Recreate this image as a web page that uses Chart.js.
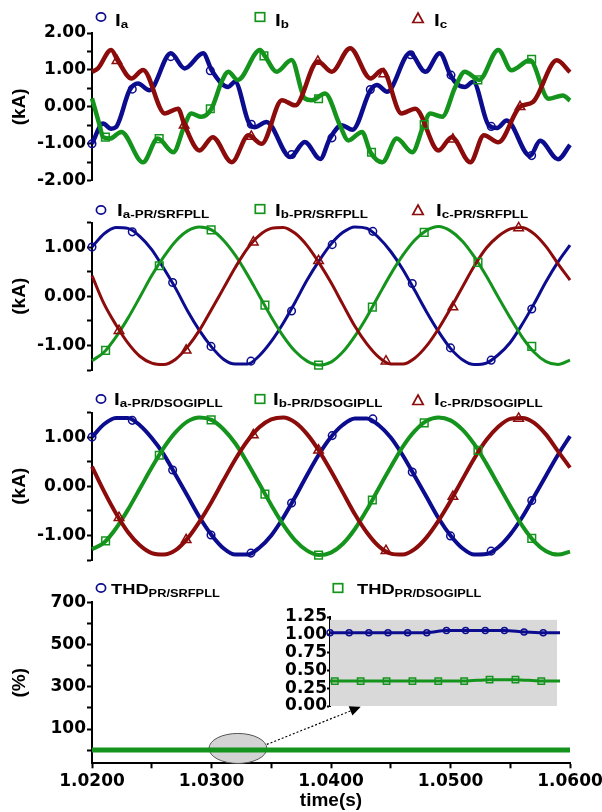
<!DOCTYPE html>
<html><head><meta charset="utf-8">
<script src="https://cdn.jsdelivr.net/npm/chart.js@4.4.1/dist/chart.umd.min.js"></script>
<style>
html,body{margin:0;padding:0;background:#fff;}
body{width:602px;height:812px;position:relative;overflow:hidden;}
canvas{position:absolute;}
.lg{position:absolute;font-family:'Liberation Sans',Arial,sans-serif;font-weight:bold;color:#000;white-space:nowrap;line-height:1;transform:scaleX(1.22);transform-origin:0 0;}
.lg .m{font-size:17px;}
.lg .s{font-size:11px;position:relative;top:2px;}
.lg .m2{font-size:15px;}
.lg .s2{font-size:10.5px;position:relative;top:3px;}
svg.mk{position:absolute;overflow:visible;}
</style></head><body>
<canvas id="c1" width="610" height="200" style="left:0;top:0"></canvas>
<canvas id="c2" width="610" height="190" style="left:0;top:200px"></canvas>
<canvas id="c3" width="610" height="185" style="left:0;top:390px"></canvas>
<canvas id="c4" width="610" height="232" style="left:0;top:580px"></canvas>
<canvas id="c5" width="340" height="120" style="left:230px;top:600px"></canvas>

<div class="lg" style="left:115px;top:11.8px"><span class="m">I</span><span class="s">a</span></div>
<div class="lg" style="left:274.5px;top:11.8px"><span class="m">I</span><span class="s">b</span></div>
<div class="lg" style="left:433.8px;top:11.8px"><span class="m">I</span><span class="s">c</span></div>
<div class="lg" style="left:117px;top:201.5px"><span class="m">I</span><span class="s">a-PR/SRFPLL</span></div>
<div class="lg" style="left:274.5px;top:201.5px"><span class="m">I</span><span class="s">b-PR/SRFPLL</span></div>
<div class="lg" style="left:435.7px;top:201.5px"><span class="m">I</span><span class="s">c-PR/SRFPLL</span></div>
<div class="lg" style="left:114px;top:391.3px"><span class="m">I</span><span class="s">a-PR/DSOGIPLL</span></div>
<div class="lg" style="left:273.3px;top:391.3px"><span class="m">I</span><span class="s">b-PR/DSOGIPLL</span></div>
<div class="lg" style="left:433.8px;top:391.3px"><span class="m">I</span><span class="s">c-PR/DSOGIPLL</span></div>
<div class="lg" style="left:111.3px;top:581.3px"><span class="m2">THD</span><span class="s2">PR/SRFPLL</span></div>
<div class="lg" style="left:357px;top:581.3px"><span class="m2">THD</span><span class="s2">PR/DSOGIPLL</span></div>
<div id="marks"></div>

<script>
// ---------------- DATA ----------------
// Panel 1 : raw currents (kA)
const p1IaT = [1.02000,1.02092,1.02160,1.02200,1.02315,1.02385,1.02480,1.02660,1.02775,1.02930,1.03000,1.03085,1.03140,1.03197,1.03310,1.03360,1.03460,1.03660,1.03780,1.03910,1.03990,1.04090,1.04180,1.04330,1.04385,1.04470,1.04660,1.04790,1.04910,1.05000,1.05050,1.05120,1.05190,1.05320,1.05390,1.05470,1.05665,1.05750,1.05900,1.06000];
const p1Ia  = [-1.00,-0.45,-0.59,-0.55,0.45,0.63,0.45,1.45,1.04,1.45,1.00,0.63,0.54,0.68,-0.41,-0.55,-0.41,-1.36,-0.95,-1.41,-0.86,-0.50,-0.62,0.45,0.59,0.41,1.45,0.95,1.45,0.86,0.63,0.54,0.68,-0.50,-0.57,-0.37,-1.33,-0.92,-1.42,-1.03];
const p1IbT = [1.02000,1.02064,1.02092,1.02150,1.02245,1.02427,1.02550,1.02680,1.02775,1.02830,1.02915,1.03000,1.03085,1.03140,1.03220,1.03406,1.03450,1.03545,1.03670,1.03780,1.03840,1.03950,1.04075,1.04145,1.04260,1.04330,1.04430,1.04550,1.04680,1.04775,1.04830,1.04930,1.05040,1.05120,1.05240,1.05400,1.05510,1.05665,1.05820,1.05940,1.06000];
const p1Ib  = [0.23,-0.50,-0.82,-0.86,-0.68,-1.50,-0.86,-1.23,-0.50,-0.18,-0.27,-0.05,0.68,0.95,0.73,1.54,1.36,0.95,1.27,0.23,0.18,0.36,-0.50,-0.91,-0.68,-1.23,-1.50,-0.86,-1.23,-0.50,-0.18,-0.27,0.54,0.95,0.73,1.54,0.99,1.26,0.22,0.31,0.17];
const p1IcT = [1.02000,1.02050,1.02160,1.02220,1.02330,1.02427,1.02610,1.02720,1.02775,1.02900,1.03010,1.03170,1.03310,1.03420,1.03590,1.03700,1.03890,1.04006,1.04160,1.04330,1.04430,1.04590,1.04705,1.04900,1.05010,1.05166,1.05280,1.05400,1.05580,1.05690,1.05890,1.06000];
const p1Ic  = [0.95,1.04,1.54,1.23,0.77,1.00,-0.18,-0.05,-0.50,-1.18,-0.82,-1.50,-0.77,-1.00,0.18,0.04,1.23,0.95,1.59,0.77,1.00,-0.18,-0.05,-1.18,-0.82,-1.50,-0.77,-0.96,0.00,0.13,1.26,0.94];
const p1IaMT = [1.02000,1.02337,1.02659,1.02990,1.03333,1.03671,1.04008,1.04329,1.04667,1.05004,1.05341,1.05679];
const p1IaM  = [-1.00,0.48,1.36,0.98,-0.47,-1.29,-0.84,0.47,1.41,0.86,-0.53,-1.32];
const p1IbMT = [1.02112,1.02562,1.02990,1.03439,1.03896,1.04339,1.04780,1.05229,1.05679];
const p1IbM  = [-0.82,-0.86,-0.05,1.38,0.22,-1.23,-0.48,0.73,1.29];
const p1IcMT = [1.02209,1.02771,1.03333,1.03890,1.04442,1.05020,1.05582];
const p1IcM  = [1.25,-0.50,-0.80,1.23,0.89,-0.88,0.00];

// Panels 2 and 3 : common time base
const p23T = [1.020,1.021,1.022,1.023,1.024,1.025,1.026,1.027,1.028,1.029,1.030,1.031,1.032,1.033,1.034,1.035,1.036,1.037,1.038,1.039,1.040,1.041,1.042,1.043,1.044,1.045,1.046,1.047,1.048,1.049,1.050,1.051,1.052,1.053,1.054,1.055,1.056,1.057,1.058,1.059,1.060];
// Panel 2 : PR / SRFPLL
const p2Ia = [1.00,1.27,1.40,1.38,1.22,0.95,0.57,0.16,-0.30,-0.70,-1.03,-1.28,-1.38,-1.38,-1.21,-0.92,-0.55,-0.12,0.33,0.72,1.06,1.30,1.41,1.38,1.19,0.91,0.55,0.12,-0.32,-0.72,-1.06,-1.29,-1.39,-1.36,-1.19,-0.94,-0.57,-0.15,0.30,0.70,1.04];
const p2Ib = [-1.31,-1.14,-0.83,-0.45,-0.02,0.42,0.80,1.12,1.33,1.41,1.35,1.14,0.83,0.44,0.01,-0.42,-0.81,-1.12,-1.32,-1.40,-1.34,-1.13,-0.81,-0.42,0.02,0.45,0.83,1.14,1.34,1.42,1.33,1.12,0.80,0.41,-0.02,-0.44,-0.83,-1.14,-1.33,-1.39,-1.30];
const p2Ic = [0.42,-0.15,-0.58,-0.95,-1.22,-1.36,-1.39,-1.28,-1.03,-0.69,-0.27,0.16,0.59,0.97,1.24,1.38,1.40,1.28,1.03,0.68,0.28,-0.17,-0.61,-0.97,-1.24,-1.38,-1.38,-1.26,-1.01,-0.66,-0.25,0.19,0.62,0.98,1.22,1.37,1.40,1.27,1.01,0.66,0.33];
const p2IaMT = [1.02000,1.02337,1.02675,1.02996,1.03330,1.03670,1.04010,1.04350,1.04680,1.05000,1.05340,1.05680];
const p2IaM  = [1.00,1.31,0.28,-1.02,-1.32,-0.30,1.05,1.32,0.26,-1.05,-1.30,-0.26];
const p2IbMT = [1.02114,1.02563,1.02997,1.03447,1.03896,1.04346,1.04780,1.05230,1.05680];
const p2IbM  = [-1.10,0.62,1.35,-0.18,-1.40,-0.22,1.30,0.69,-1.02];
const p2IcMT = [1.02226,1.02788,1.03350,1.03896,1.04460,1.05020,1.05570];
const p2IcM  = [-0.70,-1.10,1.10,0.72,-1.32,-0.22,1.39];
// Panel 3 : PR / DSOGIPLL
const p3Ia = [1.00,1.26,1.39,1.39,1.24,0.98,0.65,0.23,-0.20,-0.63,-0.99,-1.26,-1.39,-1.39,-1.25,-1.00,-0.64,-0.22,0.23,0.65,1.00,1.25,1.38,1.38,1.24,0.99,0.63,0.21,-0.22,-0.65,-1.00,-1.26,-1.39,-1.38,-1.24,-0.98,-0.63,-0.21,0.22,0.64,1.02];
const p3Ib = [-1.28,-1.15,-0.86,-0.48,-0.05,0.38,0.78,1.10,1.32,1.40,1.35,1.16,0.87,0.48,0.05,-0.38,-0.78,-1.10,-1.31,-1.40,-1.35,-1.17,-0.87,-0.48,-0.04,0.39,0.80,1.12,1.33,1.40,1.34,1.15,0.85,0.46,0.03,-0.40,-0.80,-1.12,-1.32,-1.39,-1.33];
const p3Ic = [0.40,-0.10,-0.55,-0.93,-1.20,-1.36,-1.39,-1.30,-1.06,-0.72,-0.32,0.12,0.55,0.92,1.20,1.36,1.40,1.30,1.06,0.72,0.31,-0.13,-0.57,-0.94,-1.22,-1.37,-1.39,-1.28,-1.04,-0.70,-0.30,0.14,0.57,0.94,1.21,1.37,1.39,1.29,1.05,0.71,0.38];
const p3IaMT = [1.02000,1.02337,1.02675,1.02996,1.03330,1.03670,1.04010,1.04350,1.04680,1.05000,1.05340,1.05680];
const p3IaM  = [1.00,1.34,0.33,-0.99,-1.36,-0.34,1.03,1.37,0.29,-1.01,-1.32,-0.29];
const p3IbMT = [1.02114,1.02563,1.02997,1.03447,1.03896,1.04346,1.04780,1.05230,1.05680];
const p3IbM  = [-1.11,0.63,1.35,-0.16,-1.40,-0.28,1.29,0.73,-1.06];
const p3IcMT = [1.02226,1.02788,1.03350,1.03896,1.04460,1.05020,1.05570];
const p3IcM  = [-0.64,-1.09,1.04,0.73,-1.31,-0.21,1.38];

// Panel 4 : THD (%)
const thdT     = [1.020,1.030,1.040,1.050,1.060];
const thdSrf   = [1.04,1.03,1.05,1.06,1.04];
const thdDsogi = [0.35,0.35,0.36,0.36,0.35];
// Inset (zoom of THD)
const insSrfT   = [1.02980,1.03020,1.03061,1.03101,1.03142,1.03182,1.03223,1.03263,1.03304,1.03344,1.03385,1.03425,1.03460];
const insSrf    = [1.03,1.03,1.03,1.03,1.03,1.03,1.06,1.06,1.06,1.06,1.04,1.03,1.03];
const insDsogiT = [1.02980,1.02990,1.03044,1.03098,1.03152,1.03206,1.03260,1.03313,1.03367,1.03421,1.03460];
const insDsogi  = [0.35,0.35,0.35,0.35,0.35,0.35,0.35,0.37,0.37,0.35,0.35];

// Tick values / labels
const kaTicks1 = [-2,-1.5,-1,-0.5,0,0.5,1,1.5,2];
const kaLabels1 = ['-2.00','','-1.00','','0.00','','1.00','','2.00'];
const kaTicks2 = [-1.5,-1,-0.5,0,0.5,1,1.5];
const kaLabels2 = ['','-1.00','','0.00','','1.00',''];
const thdTicks = [0,100,200,300,400,500,600,700];
const thdLabels = ['','100','','300','','500','','700'];
const timeTicks = [1.020,1.025,1.030,1.035,1.040,1.045,1.050,1.055,1.060];
const timeLabels = ['1.0200','','1.0300','','1.0400','','1.0500','','1.0600'];
const insTicks = [0,0.25,0.5,0.75,1,1.25];
const insLabels = ['0.00','0.25','0.50','0.75','1.00','1.25'];

// ---------------- STYLE ----------------
const BLUE='#0c0c8e', GREEN='#14941c', RED='#8c0b0b';
Chart.defaults.font.family = 'DejaVu Sans';
Chart.defaults.animation = false;
const TICKFONT = {family:'DejaVu Sans', size:17, weight:'bold'};
const TITLEFONT = {family:'Liberation Sans', size:19, weight:'bold'};

function pts(ts, vs){ return ts.map((t,i)=>({x:t, y:vs[i]})); }
function lineDs(ts, vs, color, w, order){
  return {data:pts(ts,vs), borderColor:color, borderWidth:w, pointRadius:0, cubicInterpolationMode:'monotone', fill:false, clip:false, order};
}
function markDs(ts, vs, color, style, r, order){
  return {data:pts(ts,vs), showLine:false, borderColor:color, pointBorderColor:color, pointBackgroundColor:'rgba(0,0,0,0)', pointStyle:style, pointRadius:r, pointBorderWidth:1.5, clip:false, order};
}
function yAxis(min, max, ticks, labels, title, width){
  return {
    type:'linear', min, max,
    afterFit: s => { s.width = width; },
    afterBuildTicks: s => { s.ticks = ticks.map(v => ({value:v})); },
    ticks:{ callback:(v,i)=>labels[i], font:TICKFONT, color:'#000', padding:1, autoSkip:false },
    grid:{ drawOnChartArea:false, drawTicks:true, tickLength:5, tickWidth:2, tickColor:'#000' },
    border:{ display:true, color:'#000', width:2 },
    title: title ? { display:true, text:title, font:TITLEFONT, color:'#000', padding:{top:8,bottom:0} } : {display:false}
  };
}
function hiddenX(min, max){ return {type:'linear', min, max, display:false}; }
const baseOpts = (pad, scales) => ({
  responsive:false, animation:false, events:[],
  layout:{padding:pad},
  plugins:{legend:{display:false}, tooltip:{enabled:false}},
  scales
});

// ---------------- PANEL 1 ----------------
new Chart(document.getElementById('c1'), {
  type:'line',
  data:{datasets:[
    markDs(p1IaMT,p1IaM,BLUE,'circle',3.8,1),
    markDs(p1IbMT,p1IbM,GREEN,'rect',5.4,1),
    markDs(p1IcMT,p1IcM,RED,'triangle',5.5,1),
    lineDs(p1IcT,p1Ic,RED,4.5,2),
    lineDs(p1IbT,p1Ib,GREEN,4.5,3),
    lineDs(p1IaT,p1Ia,BLUE,4.5,4)
  ]},
  options: baseOpts({top:33,bottom:19.3,left:0,right:40},
    {x:hiddenX(1.02,1.06), y:yAxis(-2,2,kaTicks1,kaLabels1,'(kA)',92)})
});
// ---------------- PANEL 2 ----------------
new Chart(document.getElementById('c2'), {
  type:'line',
  data:{datasets:[
    markDs(p2IaMT,p2IaM,BLUE,'circle',3.8,1),
    markDs(p2IbMT,p2IbM,GREEN,'rect',5.4,1),
    markDs(p2IcMT,p2IcM,RED,'triangle',5.5,1),
    lineDs(p23T,p2Ic,RED,3,2),
    lineDs(p23T,p2Ib,GREEN,3,3),
    lineDs(p23T,p2Ia,BLUE,3,4)
  ]},
  options: baseOpts({top:22.5,bottom:20,left:0,right:40},
    {x:hiddenX(1.02,1.06), y:yAxis(-1.5,1.5,kaTicks2,kaLabels2,'(kA)',92)})
});
// ---------------- PANEL 3 ----------------
new Chart(document.getElementById('c3'), {
  type:'line',
  data:{datasets:[
    markDs(p3IaMT,p3IaM,BLUE,'circle',3.8,1),
    markDs(p3IbMT,p3IbM,GREEN,'rect',5.4,1),
    markDs(p3IcMT,p3IcM,RED,'triangle',5.5,1),
    lineDs(p23T,p3Ic,RED,4,2),
    lineDs(p23T,p3Ib,GREEN,4,3),
    lineDs(p23T,p3Ia,BLUE,4,4)
  ]},
  options: baseOpts({top:22.5,bottom:15,left:0,right:40},
    {x:hiddenX(1.02,1.06), y:yAxis(-1.5,1.5,kaTicks2,kaLabels2,'(kA)',92)})
});
// ---------------- PANEL 4 ----------------
const ELL = {t0:1.02979, t1:1.03463, v:8, dv:71};
const ARROW = {t0:1.03463, v0:27, t1:1.04249, v1:205};
const zoomMark = {
  id:'zoomMark',
  beforeDatasetsDraw(chart){
    const {ctx, scales:{x,y}} = chart;
    const xa = x.getPixelForValue(ELL.t0), xb = x.getPixelForValue(ELL.t1);
    const cy = y.getPixelForValue(ELL.v), ry = Math.abs(y.getPixelForValue(ELL.v+ELL.dv)-cy);
    ctx.save();
    ctx.beginPath();
    ctx.ellipse((xa+xb)/2, cy, (xb-xa)/2, ry, 0, 0, Math.PI*2);
    ctx.fillStyle='#d3d3d3'; ctx.fill();
    ctx.lineWidth=1; ctx.strokeStyle='#555'; ctx.stroke();
    ctx.restore();
  },
  afterDatasetsDraw(chart){
    const {ctx, scales:{x,y}} = chart;
    const x0=x.getPixelForValue(ARROW.t0), y0=y.getPixelForValue(ARROW.v0);
    const x1=x.getPixelForValue(ARROW.t1), y1=y.getPixelForValue(ARROW.v1);
    const ang=Math.atan2(y1-y0,x1-x0), L=11, W=5;
    const bx=x1-L*Math.cos(ang), by=y1-L*Math.sin(ang);
    ctx.save();
    ctx.setLineDash([2,2]); ctx.lineWidth=1.2; ctx.strokeStyle='#000';
    ctx.beginPath(); ctx.moveTo(x0,y0); ctx.lineTo(bx,by); ctx.stroke();
    ctx.setLineDash([]);
    ctx.beginPath(); ctx.moveTo(x1,y1);
    ctx.lineTo(bx+W*Math.sin(ang), by-W*Math.cos(ang));
    ctx.lineTo(bx-W*Math.sin(ang), by+W*Math.cos(ang));
    ctx.closePath(); ctx.fillStyle='#000'; ctx.fill();
    ctx.restore();
  }
};
new Chart(document.getElementById('c4'), {
  type:'line',
  data:{datasets:[
    lineDs(thdT,thdDsogi,GREEN,5,1),
    lineDs(thdT,thdSrf,BLUE,4,2)
  ]},
  options: baseOpts({top:22.3,bottom:0,left:0,right:40},{
    x:{
      type:'linear', min:1.02, max:1.06,
      afterFit: s => { s.height = 48.7; },
      afterBuildTicks: s => { s.ticks = timeTicks.map(v=>({value:v})); },
      ticks:{ callback:(v,i)=>timeLabels[i], font:TICKFONT, color:'#000', padding:3, maxRotation:0, autoSkip:false },
      grid:{ drawOnChartArea:false, drawTicks:true, tickLength:5, tickWidth:2, tickColor:'#000' },
      border:{ display:true, color:'#000', width:2 },
      title:{ display:true, text:'time(s)', font:TITLEFONT, color:'#000', padding:{top:0,bottom:0} }
    },
    y: yAxis(-62.4,700,thdTicks,thdLabels,'(%)',92)
  }),
  plugins:[zoomMark]
});
// ---------------- INSET ----------------
const insetBg = {
  id:'insetBg',
  beforeDatasetsDraw(chart){
    const {ctx, chartArea:a, scales:{y}} = chart;
    const top = y.getPixelForValue(1.21);
    ctx.save(); ctx.fillStyle='#d9d9d9';
    ctx.fillRect(a.left, top, a.right-a.left-3, a.bottom-top);
    ctx.restore();
  }
};
const insY = yAxis(0,1.25,insTicks,insLabels,null,100);
insY.grid.tickLength = 3; insY.ticks.padding = 0;
new Chart(document.getElementById('c5'), {
  type:'line',
  data:{datasets:[
    markDs(insSrfT.slice(0,12),insSrf.slice(0,12),BLUE,'circle',3,1),
    markDs(insDsogiT.slice(1,10),insDsogi.slice(1,10),GREEN,'rect',4.5,1),
    lineDs(insSrfT,insSrf,BLUE,3,2),
    lineDs(insDsogiT,insDsogi,GREEN,3,3)
  ]},
  options: baseOpts({top:17,bottom:14,left:0,right:10},
    {x:hiddenX(1.0298,1.0346), y:insY}),
  plugins:[insetBg]
});

// ---------------- LEGEND MARKERS ----------------
const legendMarks = [
  ['circle',BLUE,100.6,16.7],['rect',GREEN,260,17.3],['tri',RED,418.4,18.3],
  ['circle',BLUE,100.6,210],['rect',GREEN,260,209],['tri',RED,418.4,210],
  ['circle',BLUE,100.6,399],['rect',GREEN,260,399],['tri',RED,418.4,400],
  ['circle',BLUE,100.6,588.3],['rect',GREEN,337.8,587.7]
];
const NS='http://www.w3.org/2000/svg';
const host=document.getElementById('marks');
legendMarks.forEach(([k,c,cx,cy])=>{
  const s=document.createElementNS(NS,'svg');
  s.setAttribute('class','mk'); s.setAttribute('width','12'); s.setAttribute('height','12');
  s.style.left=(cx-6)+'px'; s.style.top=(cy-6)+'px';
  let e;
  if(k==='circle'){ e=document.createElementNS(NS,'ellipse'); e.setAttribute('cx','6'); e.setAttribute('cy','6'); e.setAttribute('rx','4.6'); e.setAttribute('ry','4.1'); }
  else if(k==='rect'){ e=document.createElementNS(NS,'rect'); e.setAttribute('x','1.3'); e.setAttribute('y','1.7'); e.setAttribute('width','9.4'); e.setAttribute('height','8.6'); }
  else { e=document.createElementNS(NS,'polygon'); e.setAttribute('points','6,1 11.2,10.5 0.8,10.5'); }
  e.setAttribute('fill','none'); e.setAttribute('stroke',c); e.setAttribute('stroke-width','1.7');
  s.appendChild(e); host.appendChild(s);
});
</script>
</body></html>
